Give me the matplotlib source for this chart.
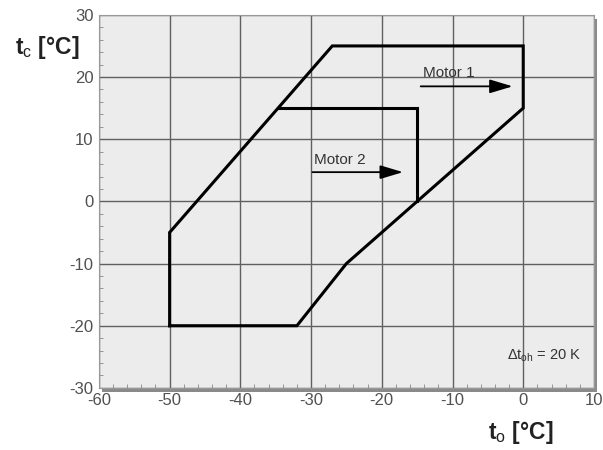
import matplotlib.pyplot as plt
from matplotlib.patches import Rectangle

plt.rcParams['font.family'] = ['Liberation Sans', 'DejaVu Sans']
plt.rcParams['axes.unicode_minus'] = False
plt.rcParams['mathtext.fontset'] = 'custom'
plt.rcParams['mathtext.rm'] = 'Liberation Sans'
plt.rcParams['mathtext.it'] = 'Liberation Sans'
plt.rcParams['mathtext.bf'] = 'Liberation Sans:bold'

# envelope corners (t_o, t_c) in degC
motor1_to = [-50, -50, -27, 0, 0, -25, -32, -50]
motor1_tc = [-20, -5, 25, 25, 15, -10, -20, -20]
motor2_to = [-34.7, -15, -15]
motor2_tc = [15, 15, 0]

x_ticks = [-60, -50, -40, -30, -20, -10, 0, 10]
y_ticks = [-30, -20, -10, 0, 10, 20, 30]

fig = plt.figure(figsize=(6.03, 4.5), dpi=100)
ax = fig.add_axes([0.164, 0.138, 0.821, 0.829])
ax.set_xlim(-60, 10)
ax.set_ylim(-30, 30)
ax.set_facecolor('#ececec')

# drop shadow on right/bottom edge
shadow = Rectangle((0.006, -0.012), 1.0, 1.0, transform=ax.transAxes,
                   facecolor='#8a8a8a', edgecolor='none', zorder=-1, clip_on=False)
fig.patches.append(shadow)
shadow.set_transform(ax.transAxes)
ax.set_zorder(1)

ax.set_xticks(x_ticks)
ax.set_yticks(y_ticks)
ax.set_xticks(range(-60, 11, 2), minor=True)
ax.set_yticks(range(-30, 31, 2), minor=True)
ax.grid(True, which='major', color='#606060', linewidth=1.0)
ax.tick_params(which='major', length=0, labelsize=12, labelcolor='#505050', pad=4)
ax.tick_params(which='minor', direction='in', length=3, color='#888888',
               top=False, right=False)
for s in ax.spines.values():
    s.set_color('#999999')
    s.set_linewidth(0.8)

ax.plot(motor1_to, motor1_tc, color='black', linewidth=2.2, solid_joinstyle='miter')
ax.plot(motor2_to, motor2_tc, color='black', linewidth=2.2, solid_joinstyle='miter')

ax.text(-14.2, 20.6, 'Motor 1', fontsize=11, color='#333333', va='center', ha='left')
ax.annotate('', xy=(-1.5, 18.5), xytext=(-14.5, 18.5),
            arrowprops=dict(arrowstyle='-|>,head_length=1.0,head_width=0.3',
                            color='black', lw=1.3,
                            mutation_scale=14, shrinkA=0, shrinkB=0))
ax.text(-29.6, 6.6, 'Motor 2', fontsize=11, color='#333333', va='center', ha='left')
ax.annotate('', xy=(-17.0, 4.7), xytext=(-29.8, 4.7),
            arrowprops=dict(arrowstyle='-|>,head_length=1.0,head_width=0.3',
                            color='black', lw=1.3,
                            mutation_scale=14, shrinkA=0, shrinkB=0))

ax.text(3.0, -24.8, r'$\mathrm{\Delta t_{oh}}$ = 20 K', fontsize=10.5, color='#333333',
        ha='center', va='center')

fig.text(0.025, 0.895, r'$\mathbf{t}_\mathrm{c}$ [°C]', fontsize=16.5, fontweight='bold',
         color='#222222', ha='left', va='center')
fig.text(0.81, 0.04, r'$\mathbf{t}_\mathrm{o}$ [°C]', fontsize=16.5, fontweight='bold',
         color='#222222', ha='left', va='center')

fig.savefig('out.png', dpi=100)
